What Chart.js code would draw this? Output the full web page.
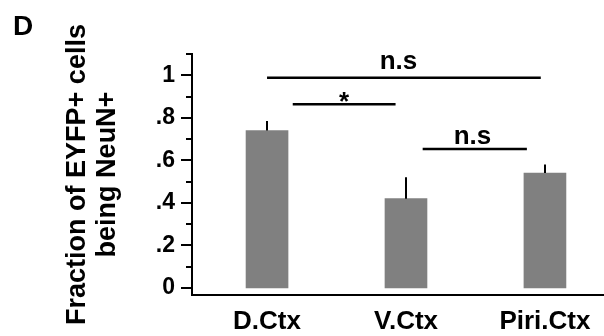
<!DOCTYPE html>
<html>
<head>
<meta charset="utf-8">
<script src="https://cdn.jsdelivr.net/npm/chart.js@4"></script>
<style>
  html, body { margin: 0; padding: 0; background: #fff; }
  canvas { display: block; }
</style>
</head>
<body>
<canvas id="fig" width="604" height="336"></canvas>
<script>
const categories = ['D.Ctx', 'V.Ctx', 'Piri.Ctx'];
const fractions = [0.74, 0.42, 0.54];
const errors = [0.045, 0.10, 0.04];

const yTickValues = [0, 0.1, 0.2, 0.3, 0.4, 0.5, 0.6, 0.7, 0.8, 0.9, 1.0, 1.1];
const yTickLabels = ['0', '', '.2', '', '.4', '', '.6', '', '.8', '', '1', ''];

// significance lines, x in category units, y in data units
const sigFrom = [0, 0.185, 1.12];
const sigTo = [1.97, 0.925, 1.87];
const sigLevel = [0.988, 0.864, 0.653];
const sigText = ['n.s', '*', 'n.s'];
const sigTextX = [0.946, 0.554, 1.478];
const sigTextY = [1.031, 0.838, 0.679];

const FONT = 'Arial, "Liberation Sans", Helvetica, sans-serif';

const extras = {
  id: 'extras',
  afterDatasetsDraw(chart) {
    const { ctx, scales: { x, y } } = chart;
    ctx.save();
    ctx.strokeStyle = '#000';
    ctx.lineWidth = 2;
    // error bars (upper only)
    fractions.forEach((v, i) => {
      const px = Math.round(x.getPixelForValue(i));
      ctx.beginPath();
      ctx.moveTo(px, y.getPixelForValue(v));
      ctx.lineTo(px, y.getPixelForValue(v + errors[i]));
      ctx.stroke();
    });
    ctx.restore();
  },
  afterDraw(chart) {
    const { ctx, chartArea, scales: { x, y } } = chart;
    ctx.save();
    ctx.strokeStyle = '#000';
    ctx.fillStyle = '#000';
    ctx.lineWidth = 2;

    // y ticks, long for labelled ones
    yTickValues.forEach((v, i) => {
      const py = Math.round(y.getPixelForValue(v));
      const len = yTickLabels[i] ? 11 : 6;
      ctx.beginPath();
      ctx.moveTo(chartArea.left - len, py);
      ctx.lineTo(chartArea.left, py);
      ctx.stroke();
    });

    // significance lines + text
    ctx.lineWidth = 2.5;
    ctx.textAlign = 'center';
    ctx.textBaseline = 'alphabetic';
    ctx.font = 'bold 26px ' + FONT;
    sigLevel.forEach((lv, i) => {
      const py = y.getPixelForValue(lv);
      ctx.beginPath();
      ctx.moveTo(x.getPixelForValue(sigFrom[i]), py);
      ctx.lineTo(x.getPixelForValue(sigTo[i]), py);
      ctx.stroke();
      ctx.fillText(sigText[i], x.getPixelForValue(sigTextX[i]), y.getPixelForValue(sigTextY[i]));
    });

    // panel letter
    ctx.textAlign = 'left';
    ctx.font = 'bold 28px ' + FONT;
    ctx.fillText('D', 13, 35);
    ctx.restore();
  }
};

new Chart(document.getElementById('fig'), {
  type: 'bar',
  data: {
    datasets: [{
      data: categories.map((c, i) => ({ x: i, y: fractions[i] })),
      backgroundColor: '#808080',
      borderWidth: 0,
      barThickness: 42
    }]
  },
  options: {
    responsive: false,
    animation: false,
    layout: { padding: { top: 54, right: 0, bottom: 0, left: 0 } },
    plugins: { legend: { display: false }, tooltip: { enabled: false } },
    scales: {
      x: {
        type: 'linear',
        offset: false,
        min: -0.54,
        max: 2.425,
        afterBuildTicks: s => { s.ticks = categories.map((c, i) => ({ value: i })); },
        afterFit: s => { s.height = 41; },
        grid: { display: false, drawTicks: false },
        border: { display: true, color: '#000', width: 2 },
        ticks: {
          autoSkip: false,
          maxRotation: 0,
          padding: 11,
          color: '#000',
          font: { family: FONT, size: 26, weight: 'bold' },
          callback: (v, i) => categories[i]
        }
      },
      y: {
        min: -0.033,
        max: 1.1,
        afterBuildTicks: s => { s.ticks = yTickValues.map(v => ({ value: v })); },
        afterFit: s => { s.width = 192; },
        grid: { display: false, drawTicks: false },
        border: { display: true, color: '#000', width: 2 },
        ticks: {
          padding: 17,
          color: '#000',
          font: { family: FONT, size: 23, weight: 'bold' },
          callback: (v, i) => yTickLabels[i]
        },
        title: {
          display: true,
          text: ['Fraction of EYFP+ cells', 'being NeuN+'],
          color: '#000',
          padding: { top: 63, bottom: 0 },
          font: { family: FONT, size: 27, weight: 'bold', lineHeight: 1.1 }
        }
      }
    }
  },
  plugins: [extras]
});
</script>
</body>
</html>
